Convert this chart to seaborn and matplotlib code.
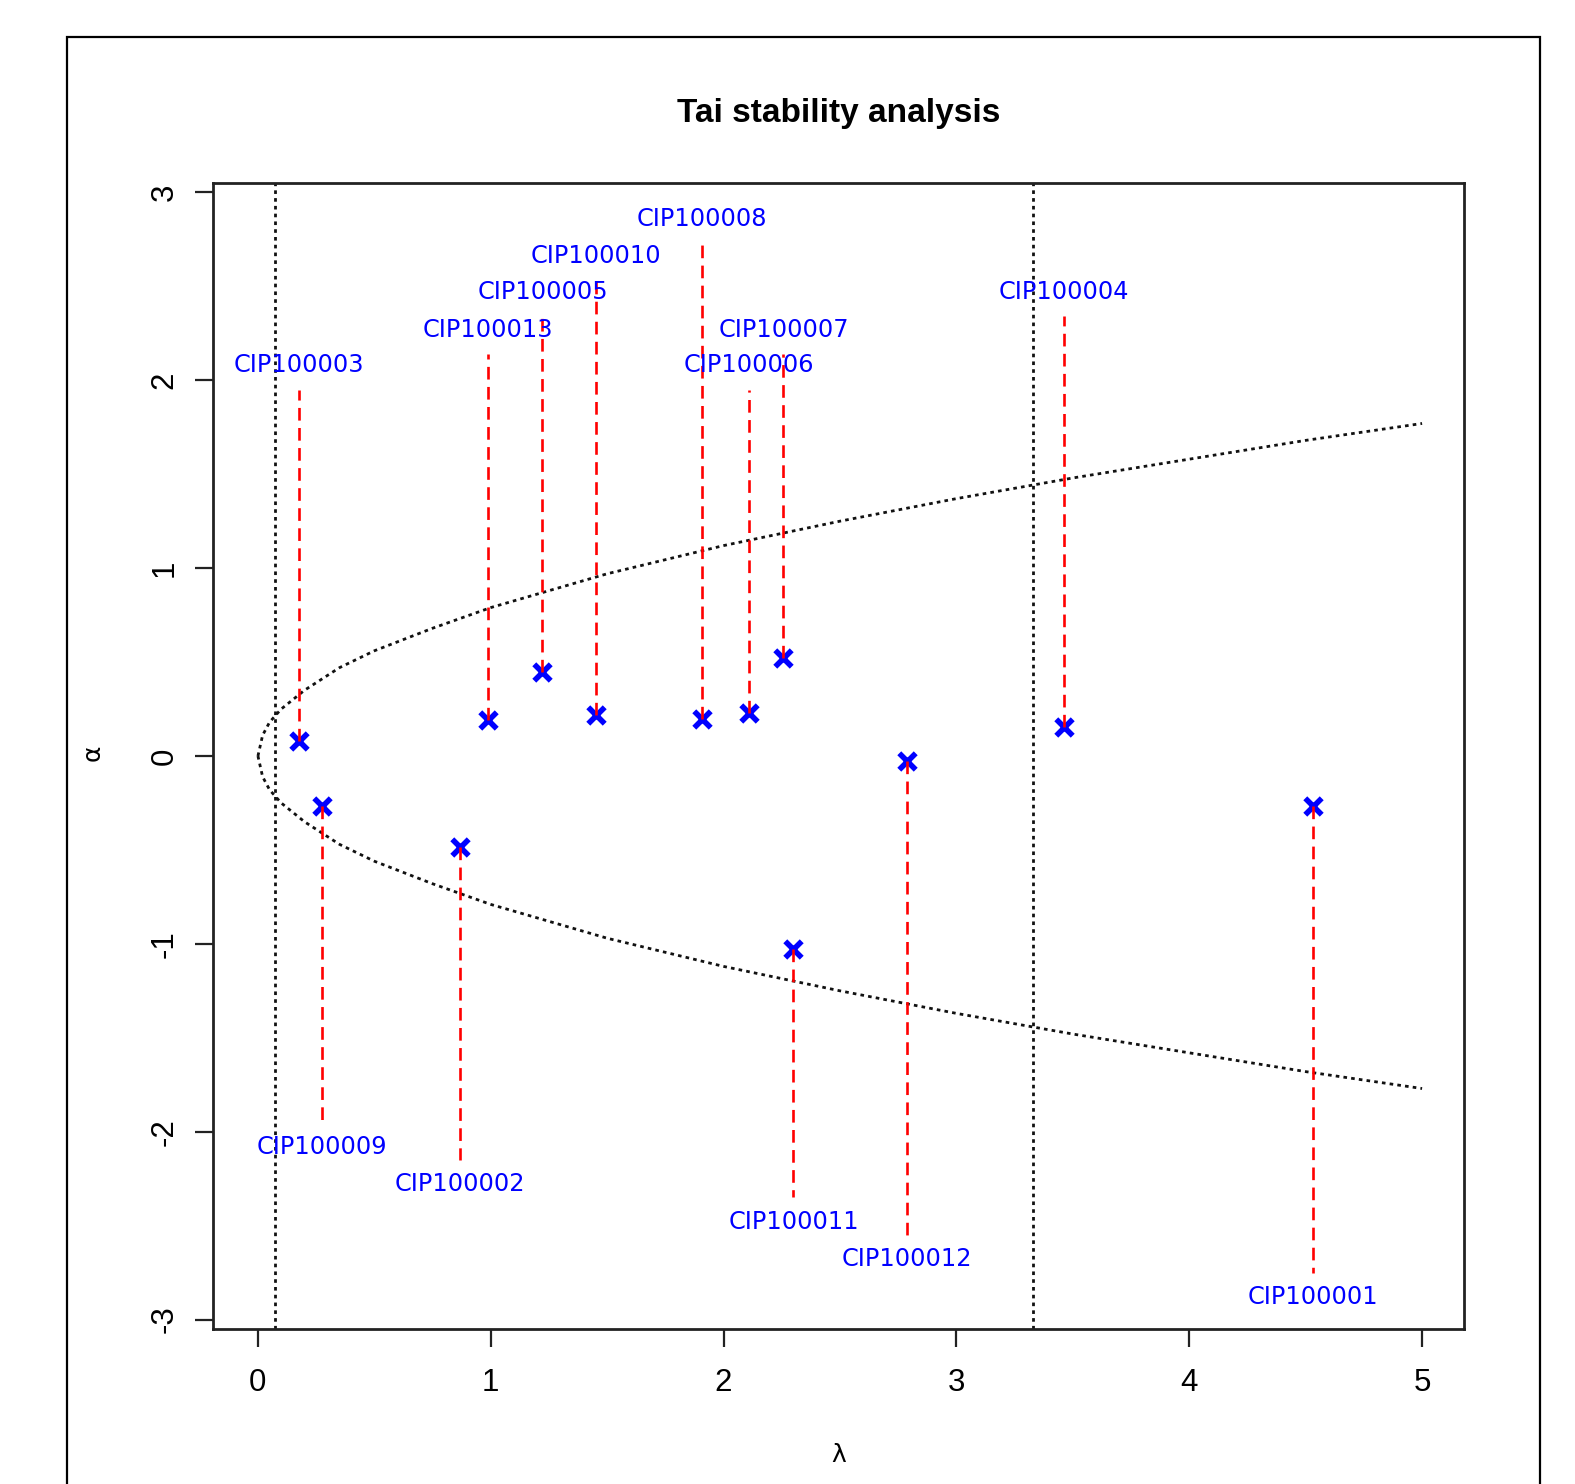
import numpy as np
import pandas as pd
import matplotlib
matplotlib.use("Agg")
import matplotlib.pyplot as plt
import seaborn as sns
from matplotlib.patches import Rectangle

# genotype stability parameters
genotypes = ['CIP100001', 'CIP100002', 'CIP100003', 'CIP100004', 'CIP100005',
             'CIP100006', 'CIP100007', 'CIP100008', 'CIP100009', 'CIP100010',
             'CIP100011', 'CIP100012', 'CIP100013']
lam = [4.532, 0.868, 0.177, 3.461, 1.222, 2.110, 2.257, 1.907, 0.277, 1.450,
       2.300, 2.788, 0.989]
alpha = [-0.267, -0.486, 0.081, 0.155, 0.445, 0.230, 0.519, 0.199, -0.267, 0.220,
         -1.026, -0.026, 0.193]
label_y = [-2.88, -2.28, 2.08, 2.47, 2.47, 2.08, 2.27, 2.86, -2.08, 2.66,
           -2.48, -2.68, 2.27]

# confidence curve and lambda limits
lam_curve = [0, 0.02, 0.05, 0.1, 0.2, 0.35, 0.5, 0.75, 1, 1.5, 2, 2.5, 3, 3.5, 4, 4.5, 5]
alpha_curve = [0, 0.11, 0.18, 0.25, 0.35, 0.47, 0.56, 0.68, 0.79, 0.97, 1.12, 1.25,
               1.37, 1.48, 1.58, 1.68, 1.77]
lam_limits = [0.074, 3.327]

df = pd.DataFrame({'genotype': genotypes, 'lam': lam, 'alpha': alpha, 'label_y': label_y})
curve = pd.DataFrame({'lam': lam_curve + lam_curve,
                      'alpha': alpha_curve + [-a for a in alpha_curve],
                      'branch': ['up'] * len(lam_curve) + ['down'] * len(lam_curve)})

sns.set_style("ticks")
plt.rcParams['font.family'] = ['Liberation Sans', 'DejaVu Sans']
plt.rcParams['axes.unicode_minus'] = False
plt.rcParams['text.color'] = 'black'
plt.rcParams['xtick.color'] = 'black'
plt.rcParams['ytick.color'] = 'black'

fig = plt.figure(figsize=(15.75, 14.84), dpi=100)
ax = fig.add_axes([213 / 1575, 1 - 1329 / 1484, (1464 - 213) / 1575, (1329 - 183) / 1484])

dotted = (0, (1.3, 1.5))
for b in ['up', 'down']:
    sns.lineplot(data=curve[curve['branch'] == b], x='lam', y='alpha', sort=False,
                 estimator=None, color='#111111', linewidth=2.0, linestyle=dotted, ax=ax)
for v in lam_limits:
    ax.axvline(v, color='#111111', linewidth=2.0, linestyle=dotted)

sns.scatterplot(data=df, x='lam', y='alpha', marker='x', color='blue', s=140,
                linewidth=4, ax=ax, zorder=2)

# dashed connectors from points to labels
gap = 0.13
ends = [y - gap if y > 0 else y + gap for y in label_y]
ax.vlines(df['lam'], df['alpha'], ends, colors='red', linewidth=1.9,
          linestyles=(0, (4.8, 2.8)), zorder=3)
for g, x, y in zip(genotypes, lam, label_y):
    ax.text(x, y, g, color='blue', fontsize=17.3, family='DejaVu Sans',
            ha='center', va='center', zorder=4)

ax.set_xlim(-0.193, 5.18)
ax.set_ylim(-3.05, 3.05)
ax.set_xticks([0, 1, 2, 3, 4, 5])
ax.set_yticks([-3, -2, -1, 0, 1, 2, 3])
ax.set_xlabel('')
ax.set_ylabel('')
for s in ax.spines.values():
    s.set_visible(True)
    s.set_linewidth(2)
    s.set_color('#222222')
ax.tick_params(length=13, width=1.6, color='#222222', labelsize=22.5)
ax.tick_params(axis='x', pad=15)
ax.tick_params(axis='y', pad=11, labelrotation=90)
for t in ax.get_yticklabels():
    t.set_va('center')

fig.text(839 / 1575, 1 - 113.5 / 1484, 'Tai stability analysis', ha='center', va='center',
         fontsize=24, fontweight='bold')
fig.text(839 / 1575, 1 - 1455 / 1484, 'λ', ha='center', va='center', fontsize=18,
         family='DejaVu Sans')
fig.text(93 / 1575, 1 - 753 / 1484, 'α', ha='center', va='center', fontsize=18, rotation=90,
         family='DejaVu Sans')

fig.patches.append(Rectangle((67 / 1575, -0.02), (1540 - 67) / 1575, 1 - 37 / 1484 + 0.02,
                             transform=fig.transFigure, fill=False, edgecolor='black',
                             linewidth=1.6))

fig.savefig('out.png', dpi=100)
